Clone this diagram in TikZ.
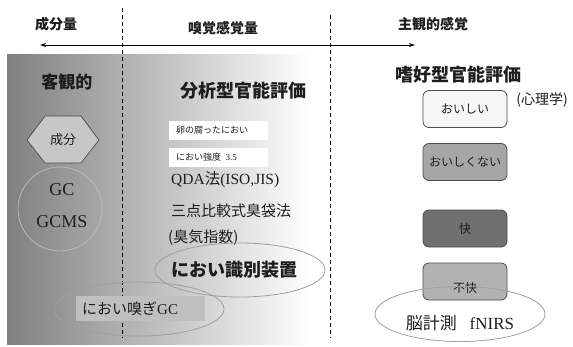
\documentclass[tikz,border=0pt]{standalone}
\usepackage{fontspec}
\setmainfont{Liberation Serif}
\newfontfamily\jp{Noto Sans CJK JP}
\usetikzlibrary{arrows.meta}
\definecolor{txt}{HTML}{1E1E1E}
\tikzset{
  x=1pt, y=-1pt,
  dashline/.style={draw=black, line width=1pt, dash pattern=on 4pt off 3pt},
  ring/.style={draw=gray!75, line width=0.8pt},
  smallbox/.style={fill=white, draw=none, minimum width=99pt, minimum height=19pt, anchor=north west, inner sep=0pt},
  rbox/.style={draw=black!70, line width=0.8pt, rounded corners=6pt, minimum width=84pt, minimum height=37pt, inner sep=0pt},
  lab/.style={text=txt, inner sep=0pt},
}
\begin{document}
\begin{tikzpicture}
\useasboundingbox (0,0) rectangle (573,346);
\fill[white] (0,0) rectangle (573,346);
% gradient background
\shade[left color=black!50, right color=white] (7,54) rectangle (310,344);
% dashed separators
\draw[dashline] (122,8) -- (122,338);
\draw[dashline] (330,15) -- (330,338);
% top labels
\node[lab, font=\jp\bfseries\fontsize{14}{14}\selectfont] (tA) at (56,24) {成分量};
\node[lab, font=\jp\bfseries\fontsize{14}{14}\selectfont] (tB) at (223,28) {嗅覚感覚量};
\node[lab, font=\jp\bfseries\fontsize{14}{14}\selectfont] (tC) at (433,24) {主観的感覚};
% axis arrow
\coordinate (aL) at (40,45);
\coordinate (aR) at (415,45);
\draw[line width=1pt, {Stealth[length=6pt,width=4pt]}-{Stealth[length=6pt,width=4pt]}] (aL) -- (aR);
% left column
\node[lab, font=\jp\bfseries\fontsize{17}{17}\selectfont] (kyak) at (67,82) {客観的};
\filldraw[fill=black!22, draw=black!70, line width=0.7pt]
  (27,140) -- (45,116) -- (81,116) -- (99,140) -- (81,163) -- (45,163) -- cycle;
\node[lab, font=\jp\fontsize{13}{13}\selectfont] (seibun) at (63,140) {成分};
\draw[ring, draw=gray!55] (60,209) circle[radius=42];
\node[lab, font=\fontsize{18}{18}\selectfont] (gc) at (62,190) {GC};
\node[lab, font=\fontsize{18}{18}\selectfont] (gcms) at (62,222) {GCMS};
% sniffing GC
\fill[black!25] (76,296) rectangle (205,321);
\node[lab, font=\fontsize{15}{15}\selectfont, anchor=west] (sniff) at (82,309) {{\jp におい嗅ぎ}GC};
\draw[ring] (139,309) ellipse[x radius=85, y radius=27];
% middle column
\node[lab, font=\jp\bfseries\fontsize{18}{18}\selectfont] (bunseki) at (243,91) {分析型官能評価};
\node[smallbox] (b1) at (169,121) {};
\node[lab, font=\jp\fontsize{9}{9}\selectfont, anchor=west] (t1) at (176,130.5) {卵の腐ったにおい};
\node[smallbox] (b2) at (169,148) {};
\node[lab, font=\fontsize{9}{9}\selectfont, anchor=west] (t2) at (176,157.5) {{\jp におい強度}\ \ 3.5};
\node[lab, font=\fontsize{15.5}{15.5}\selectfont, anchor=west] (qda) at (171,180) {QDA{\jp 法}(ISO,JIS)};
\node[lab, font=\jp\fontsize{15}{15}\selectfont, anchor=west] (santen) at (171,211) {三点比較式臭袋法};
\node[lab, font=\jp\fontsize{15}{15}\selectfont, anchor=west] (shuki) at (168,238) {(臭気指数)};
\draw[ring] (240,270) ellipse[x radius=85, y radius=27];
\node[lab, font=\jp\bfseries\fontsize{18}{18}\selectfont, anchor=west] (shikibetsu) at (171,270) {におい識別装置};
% right column
\node[lab, font=\jp\bfseries\fontsize{18}{18}\selectfont] (shiko) at (458,75) {嗜好型官能評価};
\node[lab, font=\jp\fontsize{14}{14}\selectfont] (shinri) at (542,100) {(心理学)};
\node[rbox, fill=black!3] (oishii) at (465,109) {};
\node[lab, font=\jp\fontsize{12}{12}\selectfont] at (oishii) {おいしい};
\node[rbox, fill=black!35] (oishikunai) at (465,162) {};
\node[lab, font=\jp\fontsize{12}{12}\selectfont] at (oishikunai) {おいしくない};
\node[rbox, fill=black!56] (kai) at (465,228.5) {};
\node[lab, font=\jp\fontsize{12}{12}\selectfont] at (kai) {快};
\node[rbox, fill=black!30] (fukai) at (465,281.5) {};
\node[lab, font=\jp\fontsize{12}{12}\selectfont] (fukait) at (465,288) {不快};
\draw[ring] (460,314) ellipse[x radius=85, y radius=27.5];
\node[lab, font=\fontsize{17}{17}\selectfont] (nou) at (460,323) {{\jp 脳計測}\ \ \ fNIRS};
\end{tikzpicture}
\end{document}
